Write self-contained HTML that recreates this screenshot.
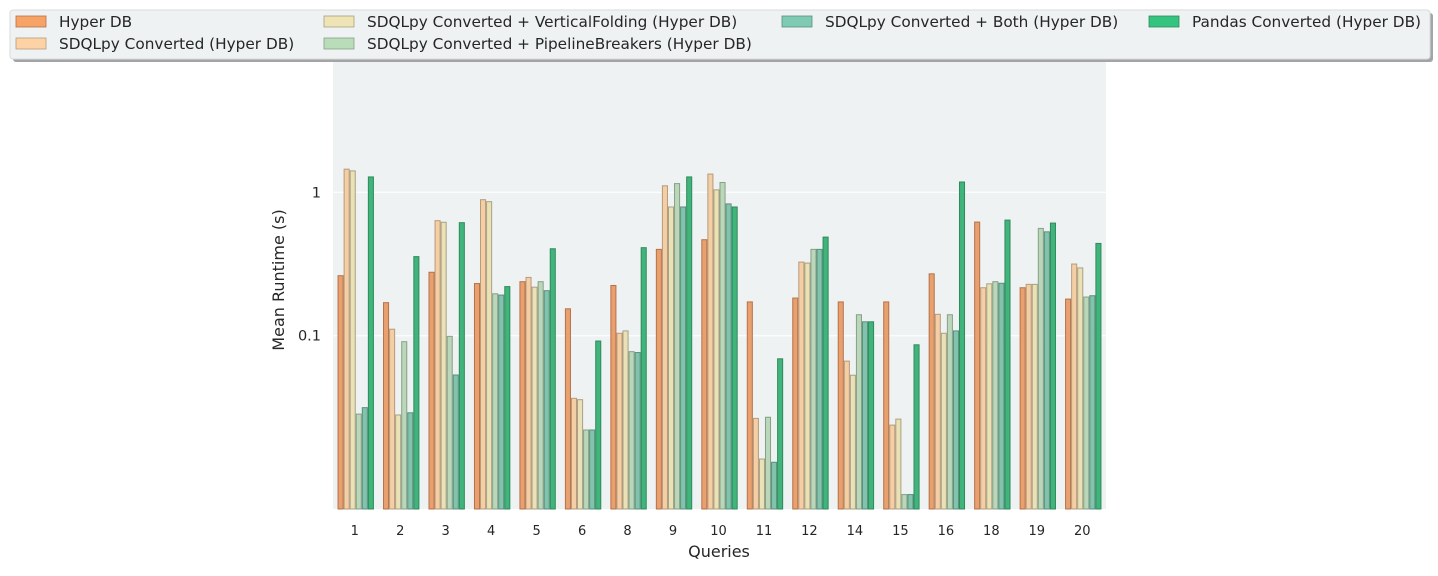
<!DOCTYPE html>
<html><head><meta charset="utf-8"><style>
body{margin:0;background:#fff;font-family:"Liberation Sans","DejaVu Sans",sans-serif}
svg text{font-family:"DejaVu Sans","Liberation Sans",sans-serif}
</style></head><body>
<svg id="chart" width="1438" height="571" xmlns="http://www.w3.org/2000/svg">
<rect x="333" y="10" width="773" height="499" fill="#eff2f3"/>
<g id="grid"></g><g id="bars"></g><g id="axes"></g><g id="legend"></g>
</svg>
<script>
const categories=["1","2","3","4","5","6","8","9","10","11","12","14","15","16","18","19","20"];
const seriesNames=["Hyper DB","SDQLpy Converted (Hyper DB)","SDQLpy Converted + VerticalFolding (Hyper DB)","SDQLpy Converted + PipelineBreakers (Hyper DB)","SDQLpy Converted + Both (Hyper DB)","Pandas Converted (Hyper DB)"];
const hyper=[0.262,0.170,0.277,0.231,0.238,0.154,0.224,0.40,0.467,0.172,0.183,0.172,0.172,0.27,0.62,0.216,0.18];
const sdql=[1.45,0.111,0.634,0.888,0.255,0.0366,0.104,1.11,1.34,0.0265,0.326,0.0665,0.0238,0.141,0.216,0.228,0.316];
const vfold=[1.41,0.028,0.618,0.86,0.218,0.0358,0.108,0.79,1.04,0.0138,0.321,0.053,0.0262,0.104,0.23,0.228,0.297];
const pbreak=[0.0284,0.0908,0.099,0.196,0.238,0.022,0.0774,1.15,1.17,0.027,0.40,0.14,0.0078,0.14,0.238,0.56,0.186];
const both=[0.0315,0.029,0.0532,0.192,0.206,0.022,0.0763,0.79,0.83,0.0131,0.40,0.125,0.0078,0.108,0.232,0.53,0.19];
const pandas=[1.28,0.356,0.614,0.22,0.404,0.0918,0.411,1.28,0.79,0.069,0.487,0.125,0.0864,1.18,0.64,0.61,0.44];
const yTicks=[0.1,1];
const yTickLabels=["0.1","1"];
const series=[hyper,sdql,vfold,pbreak,both,pandas];
const fills=["#e9a06f","#f4cfa5","#ebe1b7","#bad7ba","#82c3ad","#41b47c"];
const strokes=["#b5714a","#b8997a","#a8a080","#879f87","#5a8f7e","#2f8a5c"];
const legFills=["#f7a366","#fdd3a6","#eee4b6","#b9dcb9","#7fcab3","#35c47f"];
const NS="http://www.w3.org/2000/svg";
const X0=333,X1=1106,YB=509,Y1=192.3,DEC=143.4;
const step=(X1-X0)/categories.length;
function xBand(i){return X0+step*i+step/2;}
function yScale(v){return Y1-Math.log10(v)*DEC;}
function mk(t,a,p){const e=document.createElementNS(NS,t);for(const k in a)e.setAttribute(k,a[k]);p.appendChild(e);return e;}
const grid=document.getElementById('grid'),bars=document.getElementById('bars'),axes=document.getElementById('axes'),leg=document.getElementById('legend');
yTicks.forEach((t,i)=>{const y=yScale(t);
 const l=mk('line',{x1:X0,x2:X1,y1:y,y2:y,stroke:'#fff','stroke-width':1},grid);
 
 
 const tx=mk('text',{x:X0-12,y:y+5,'text-anchor':'end','font-size':14.5,fill:'#262626'},axes);tx.textContent=yTickLabels[i];
 
 
});
const bw=step*0.8/6;
categories.forEach((c,i)=>{
 series.forEach((s,j)=>{
  const x=xBand(i)-step*0.4+bw*j;const y=yScale(s[i]);
  const r=mk('rect',{x:x+0.5,y:y,width:bw-1,height:YB-y,fill:fills[j],stroke:strokes[j],'stroke-width':1},bars);
  
  
 });
 const tx=mk('text',{x:xBand(i)-1,y:535,'text-anchor':'middle','font-size':13,fill:'#262626'},axes);tx.textContent=c;
 
 
});
let t=mk('text',{x:719,y:557,'text-anchor':'middle','font-size':16,fill:'#262626'},axes);t.textContent='Queries';


t=mk('text',{x:0,y:0,'text-anchor':'middle','font-size':16,fill:'#262626',transform:'translate(284,280) rotate(-90)'},axes);t.textContent='Mean Runtime (s)';


let sh=mk('rect',{x:13,y:13,width:1420,height:49,rx:3,fill:'#a2a4a5'},leg);


let bx=mk('rect',{x:10,y:10,width:1420,height:49,rx:3,fill:'#eff2f3',stroke:'#d8dadb'},leg);


const lx=[16,16,324,324,782,1149],ly=[16,38,16,38,16,16];
seriesNames.forEach((n,j)=>{
 const r=mk('rect',{x:lx[j],y:ly[j],width:30,height:11,fill:legFills[j],stroke:strokes[j],'stroke-width':0.8},leg);
 
 
 const tx=mk('text',{x:lx[j]+43,y:ly[j]+11,'font-size':15.3,fill:'#262626'},leg);tx.textContent=n;
 
 
});
</script>
</body></html>
